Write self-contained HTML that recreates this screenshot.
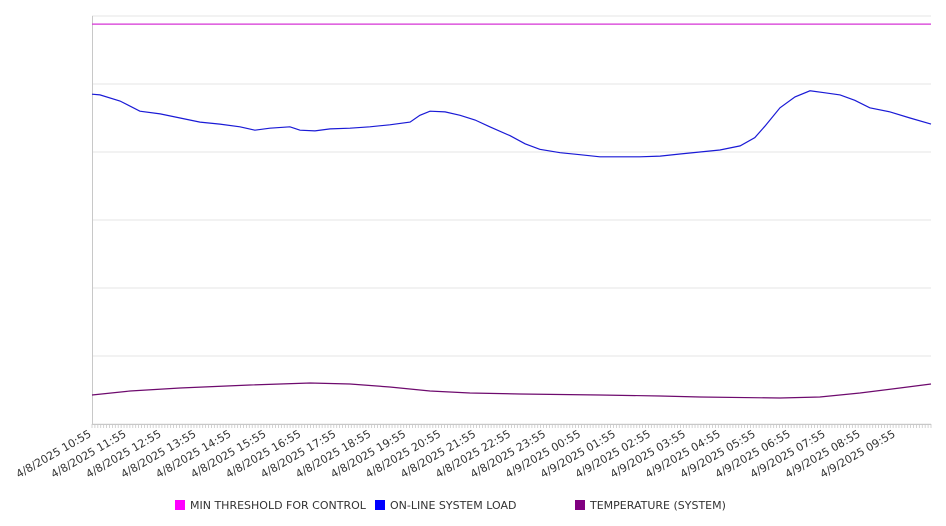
<!DOCTYPE html>
<html><head><meta charset="utf-8"><style>
html,body{margin:0;padding:0;background:#fff;width:946px;height:526px;overflow:hidden}
svg{display:block;font-family:"DejaVu Sans","Liberation Sans",sans-serif}
</style></head><body>
<svg id="chart" width="946" height="526" viewBox="0 0 946 526"></svg>
<script>
const tickLabels=["4/8/2025 10:55","4/8/2025 11:55","4/8/2025 12:55","4/8/2025 13:55","4/8/2025 14:55","4/8/2025 15:55","4/8/2025 16:55","4/8/2025 17:55","4/8/2025 18:55","4/8/2025 19:55","4/8/2025 20:55","4/8/2025 21:55","4/8/2025 22:55","4/8/2025 23:55","4/9/2025 00:55","4/9/2025 01:55","4/9/2025 02:55","4/9/2025 03:55","4/9/2025 04:55","4/9/2025 05:55","4/9/2025 06:55","4/9/2025 07:55","4/9/2025 08:55","4/9/2025 09:55"];
const thresholdValue=588;
const loadHours=[0,0.23,0.8,1.37,1.95,2.52,3.09,3.66,4.23,4.66,5.09,5.66,5.95,6.38,6.81,7.38,7.95,8.52,9.1,9.38,9.67,10.1,10.53,10.96,11.38,11.96,12.39,12.81,13.39,13.96,14.53,15.1,15.67,16.25,16.82,17.39,17.96,18.54,18.96,19.25,19.68,20.11,20.54,20.97,21.4,21.82,22.25,22.83,23.4,24];
const loadValues=[485,484,475,460,456,450,444,441,437,432,435,437,432,431,434,435,437,440,444,454,460,459,454,447,437,424,412,404,399,396,393,393,393,394,397,400,403,409,421,438,465,481,490,487,484,476,465,459,450,441];
const tempHours=[0,1.09,2.52,4.52,6.24,7.38,8.52,9.67,10.81,12.24,14.53,16.25,17.39,19.68,20.82,21.97,23.11,24];
const tempValues=[42.6,48.5,52.9,57.4,60.3,58.8,54.4,48.5,45.6,44.1,42.6,41.2,39.7,38.2,39.7,45.6,52.9,58.8];
const gridValues=[0,100,200,300,400,500,600];

const L=92,R=931,T=16,B=424,NS='http://www.w3.org/2000/svg';
const svg=document.getElementById('chart');
const xs=h=>L+h/24*(R-L);
const ys=v=>B-v/600*(B-T);
function mk(t,a,p){const e=document.createElementNS(NS,t);for(const k in a)e.setAttribute(k,a[k]);(p||svg).appendChild(e);return e;}

gridValues.forEach(v=>{
 const g=mk('line',{x1:L,x2:R,y1:ys(v),y2:ys(v),stroke:'#e6e6e6','stroke-width':1});
 
 
});
const ya=mk('line',{x1:L+0.5,x2:L+0.5,y1:T,y2:B,stroke:'#c8c8c8'});


const xa=mk('line',{x1:L,x2:R,y1:B+0.5,y2:B+0.5,stroke:'#c8c8c8'});


for(let i=0;i<=288;i++){
 const x=xs(i/12);
 const t=mk('line',{x1:x,x2:x,y1:B,y2:B+4,stroke:'#c8c8c8','stroke-width':0.8});
 
 
}
tickLabels.forEach((s,i)=>{
 const x=xs(i);
 const t=mk('text',{x:x,y:B+12,'font-size':11,fill:'#333','text-anchor':'end',transform:`rotate(-30 ${x} ${B+12})`});
 t.textContent=s;
 
 
});
const th=mk('line',{x1:L,x2:R,y1:ys(thresholdValue),y2:ys(thresholdValue),stroke:'#d633d6','stroke-width':1.2});


function path(hs,vs,col,name){
 const d=hs.map((h,i)=>(i?'L':'M')+xs(h).toFixed(1)+','+ys(vs[i]).toFixed(1)).join('');
 const p=mk('path',{d:d,fill:'none',stroke:col,'stroke-width':1.2});
 
 
}
path(loadHours,loadValues,'#1a1ad6','online-system-load-line');
path(tempHours,tempValues,'#6e0a6e','temperature-line');

const leg=[["MIN THRESHOLD FOR CONTROL","#ff00ff",175],["ON-LINE SYSTEM LOAD","#0000ff",375],["TEMPERATURE (SYSTEM)","#800080",575]];
leg.forEach(l=>{
 const g=mk('g',{});
 
 
 mk('rect',{x:l[2],y:500,width:10,height:10,fill:l[1]},g);
 const t=mk('text',{x:l[2]+15,y:509,'font-size':11,fill:'#333'},g);
 t.textContent=l[0];
});
</script>
</body></html>
